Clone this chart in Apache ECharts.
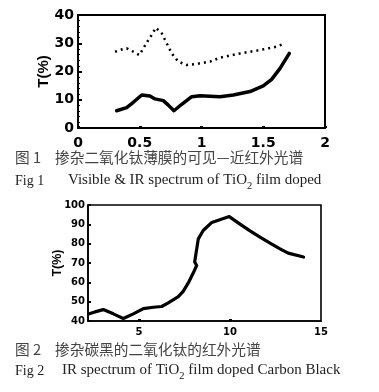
<!DOCTYPE html>
<html>
<head>
<meta charset="utf-8">
<script src="https://cdn.jsdelivr.net/npm/echarts@6/dist/echarts.min.js"></script>
<style>
html,body{margin:0;padding:0;background:#fff;}
#c{width:379px;height:392px;}
</style>
</head>
<body>
<div id="c"></div>
<script>
// Fig 1: Visible & IR spectrum (x: wavelength, y: T %)
const fig1XTicks = [0, 0.5, 1, 1.5, 2];
const fig1YTicks = [0, 10, 20, 30, 40];
const fig1Solid = [
  [0.313, 6.1], [0.394, 7.2], [0.448, 9.1], [0.516, 11.7], [0.583, 11.3],
  [0.623, 10.3], [0.691, 9.7], [0.731, 8.1], [0.777, 6.1], [0.840, 8.4],
  [0.921, 11.1], [0.988, 11.4], [1.15, 11.1], [1.258, 11.7], [1.393, 12.9],
  [1.50, 14.9], [1.568, 17.2], [1.636, 21.1], [1.711, 26.4]
];
const fig1Dotted = [
  [0.30, 27.0], [0.354, 27.8], [0.394, 28.2], [0.448, 27.0], [0.497, 25.8],
  [0.529, 28.2], [0.57, 31.2], [0.605, 33.5], [0.630, 35.5], [0.678, 33.5],
  [0.718, 30.0], [0.759, 26.4], [0.812, 23.5], [0.880, 22.3], [0.961, 22.7],
  [1.069, 23.5], [1.15, 24.9], [1.312, 26.4], [1.474, 27.6], [1.609, 28.8],
  [1.676, 30.0]
];
// Fig 2: IR spectrum (x: wavelength um, y: T %)
const fig2XLabels = [5, 10, 15];
const fig2YTicks = [40, 50, 60, 70, 80, 90, 100];
const fig2Line = [
  [2.27, 43.7], [2.58, 44.7], [3.04, 45.9], [3.59, 43.7], [4.14, 41.3],
  [4.69, 43.7], [5.24, 46.4], [5.79, 47.1], [6.25, 47.5], [6.61, 49.4],
  [7.16, 52.6], [7.43, 55.3], [7.71, 59.7], [7.98, 64.8], [8.17, 68.7],
  [8.06, 70.5], [8.26, 82.5], [8.53, 86.8], [9.0, 91.0], [9.96, 94.0],
  [10.55, 90.1], [11.1, 86.6], [11.65, 83.4], [12.2, 80.3], [12.75, 77.3],
  [13.2, 75.1], [14.04, 73.1]
];
const cap1CN = ['图 1', '掺杂二氧化钛薄膜的可见—近红外光谱'];
const cap1EN = ['Fig 1', 'Visible & IR spectrum of TiO', '2', ' film doped'];
const cap2CN = ['图 2', '掺杂碳黑的二氧化钛的红外光谱'];
const cap2EN = ['Fig 2', 'IR spectrum of TiO', '2', ' film doped Carbon Black'];

const chart = echarts.init(document.getElementById('c'), null, {renderer: 'canvas'});
const tickFont = {fontFamily: 'DejaVu Sans', fontWeight: 'bold', color: '#000'};
const cnFont = 'Noto Sans CJK SC';
const enFont = 'Liberation Serif';

function cnText(x, y, txt) {
  return {type: 'text', left: x, top: y, style: {text: txt, font: '14.7px "' + cnFont + '"', fill: '#444'}};
}
function enText(x, y, parts) {
  return {
    type: 'text', left: x, top: y,
    style: {
      text: '{a|' + parts[0] + '}{s|' + parts[1] + '}{a|' + parts[2] + '}',
      rich: {
        a: {fontFamily: enFont, fontSize: 15, fill: '#222', lineHeight: 18, verticalAlign: 'bottom'},
        s: {fontFamily: enFont, fontSize: 10.5, fill: '#222', lineHeight: 18, verticalAlign: 'bottom', padding: [0, 0, -4, 0]}
      }
    }
  };
}

chart.setOption({
  animation: false,
  backgroundColor: '#fff',
  grid: [
    {left: 78, top: 15, width: 247, height: 113, show: true, borderColor: '#000', borderWidth: 2, backgroundColor: 'transparent'},
    {left: 88, top: 205, width: 233, height: 116, show: true, borderColor: '#000', borderWidth: 1.6, backgroundColor: 'transparent'}
  ],
  xAxis: [
    {
      gridIndex: 0, type: 'value', min: fig1XTicks[0], max: fig1XTicks[fig1XTicks.length - 1], interval: 0.5,
      axisLine: {lineStyle: {color: '#000', width: 2}},
      axisTick: {inside: true, length: 2, lineStyle: {color: '#000', width: 3}},
      axisLabel: Object.assign({fontSize: 14, margin: 8}, tickFont),
      splitLine: {show: false}
    },
    {
      gridIndex: 1, type: 'value', min: 2.2, max: 15,
      axisLine: {lineStyle: {color: '#000', width: 1.6}},
      axisTick: {inside: true, length: 2, customValues: [5, 10], lineStyle: {color: '#000', width: 3}},
      axisLabel: Object.assign({fontSize: 10, margin: 6, customValues: fig2XLabels}, tickFont),
      splitLine: {show: false}
    }
  ],
  yAxis: [
    {
      gridIndex: 0, type: 'value', min: fig1YTicks[0], max: fig1YTicks[fig1YTicks.length - 1], interval: 10,
      name: 'T(%)', nameLocation: 'middle', nameGap: 27, nameMoveOverlap: false,
      nameTextStyle: {fontFamily: 'Liberation Sans', fontWeight: 'bold', fontSize: 15, color: '#000'},
      axisLine: {lineStyle: {color: '#000', width: 2}},
      axisTick: {inside: true, length: 4, lineStyle: {color: '#000', width: 2}},
      minorTick: {show: true, splitNumber: 5, length: 2, lineStyle: {color: '#000', width: 1}},
      axisLabel: Object.assign({fontSize: 14, margin: 4}, tickFont),
      splitLine: {show: false}
    },
    {
      gridIndex: 1, type: 'value', min: fig2YTicks[0], max: fig2YTicks[fig2YTicks.length - 1], interval: 10,
      name: 'T(%)', nameLocation: 'middle', nameGap: 24, nameMoveOverlap: false,
      nameTextStyle: {fontFamily: 'Liberation Sans', fontWeight: 'bold', fontSize: 12.5, color: '#000'},
      axisLine: {lineStyle: {color: '#000', width: 1.6}},
      axisTick: {inside: true, length: 3, lineStyle: {color: '#000', width: 2}},
      axisLabel: Object.assign({fontSize: 10, margin: 3}, tickFont),
      splitLine: {show: false}
    }
  ],
  series: [
    {type: 'line', xAxisIndex: 0, yAxisIndex: 0, data: fig1Solid, symbol: 'none', smooth: false,
      lineStyle: {color: '#000', width: 3.5, cap: 'round', join: 'round'}},
    {type: 'line', xAxisIndex: 0, yAxisIndex: 0, data: fig1Dotted, symbol: 'none', smooth: false,
      lineStyle: {color: '#000', width: 2.5, type: [2, 4]}},
    {type: 'line', xAxisIndex: 1, yAxisIndex: 1, data: fig2Line, symbol: 'none', smooth: false,
      lineStyle: {color: '#000', width: 3.2, cap: 'round', join: 'round'}}
  ],
  graphic: [
    cnText(15, 150, cap1CN[0]),
    cnText(55, 150, cap1CN[1]),
    {type: 'text', left: 15, top: 174, style: {text: cap1EN[0], font: '14px "' + enFont + '"', fill: '#222'}},
    enText(68, 173, cap1EN.slice(1)),
    cnText(15, 342, cap2CN[0]),
    cnText(55, 342, cap2CN[1]),
    {type: 'text', left: 15, top: 364, style: {text: cap2EN[0], font: '14px "' + enFont + '"', fill: '#222'}},
    enText(62, 363, cap2EN.slice(1))
  ]
});
</script>
</body>
</html>
